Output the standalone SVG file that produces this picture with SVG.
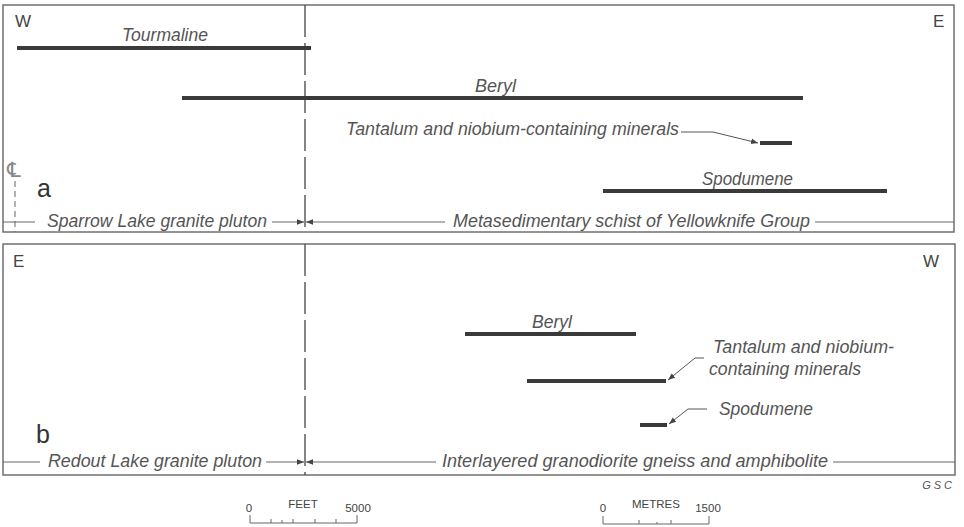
<svg xmlns="http://www.w3.org/2000/svg" width="964" height="527" viewBox="0 0 964 527">
  <defs>
    <style>
      .frame { fill: none; stroke: #666; stroke-width: 1.4; }
      .thin { fill: none; stroke: #666; stroke-width: 1; }
      .dash { fill: none; stroke: #444; stroke-width: 1.3; stroke-dasharray: 32 6; }
      .bar { fill: none; stroke: #3a3a3a; stroke-width: 4; }
      .lead { fill: none; stroke: #555; stroke-width: 1; }
      .lbl { font-family: "Liberation Sans", Arial, sans-serif; font-style: italic; font-size: 17.5px; fill: #555; }
      .dir { font-family: "Liberation Sans", Arial, sans-serif; font-size: 17px; fill: #444; }
      .big { font-family: "Liberation Sans", Arial, sans-serif; font-size: 25px; fill: #333; }
      .sc { font-family: "Liberation Sans", Arial, sans-serif; font-size: 11.5px; fill: #444; }
    </style>
    <marker id="arr" viewBox="0 0 10 10" refX="10" refY="5" markerWidth="7" markerHeight="7" orient="auto-start-reverse" markerUnits="userSpaceOnUse">
      <path d="M0,1 L10,5 L0,9 Z" fill="#444"/>
    </marker>
  </defs>

  <!-- panel a -->
  <g id="panel-a">
    <rect class="frame" x="3" y="5" width="951" height="227"/>
    <line class="dash" x1="305" y1="5" x2="305" y2="232"/>
    <text class="dir" x="15" y="27">W</text>
    <text class="dir" x="933" y="27">E</text>
    <text class="big" x="37" y="197">a</text>
    <text x="7" y="177" style="font-family: 'DejaVu Sans', sans-serif; font-size: 21px; fill: #888;">℄</text>
    <line class="thin" x1="15" y1="181" x2="15" y2="232" stroke-dasharray="6 4"/>
  </g>

  <g id="tourmaline-a">
    <line class="bar" x1="17" y1="48" x2="311" y2="48"/>
    <text class="lbl" x="122" y="41" textLength="86" lengthAdjust="spacingAndGlyphs">Tourmaline</text>
  </g>
  <g id="beryl-a">
    <line class="bar" x1="182" y1="98" x2="803" y2="98"/>
    <text class="lbl" x="475" y="92" textLength="41" lengthAdjust="spacingAndGlyphs">Beryl</text>
  </g>
  <g id="tantalum-a">
    <line class="bar" x1="760" y1="143" x2="792" y2="143"/>
    <text class="lbl" x="346" y="135" textLength="333" lengthAdjust="spacingAndGlyphs">Tantalum and niobium-containing minerals</text>
  </g>
  <g id="spodumene-a">
    <line class="bar" x1="603" y1="191" x2="887" y2="191"/>
    <text class="lbl" x="702" y="185" textLength="91" lengthAdjust="spacingAndGlyphs">Spodumene</text>
  </g>
  <g id="units-a">
    <text class="lbl" x="47" y="227" textLength="220" lengthAdjust="spacingAndGlyphs">Sparrow Lake granite pluton</text>
    <text class="lbl" x="453" y="227" textLength="357" lengthAdjust="spacingAndGlyphs">Metasedimentary schist of Yellowknife Group</text>
  </g>

  <!-- panel b -->
  <g id="panel-b">
    <rect class="frame" x="3" y="244" width="952" height="231"/>
    <line class="dash" x1="305" y1="244" x2="305" y2="475"/>
    <text class="dir" x="13" y="267">E</text>
    <text class="dir" x="923" y="267">W</text>
    <text class="big" x="36" y="443">b</text>
  </g>

  <g id="beryl-b">
    <line class="bar" x1="465" y1="334" x2="636" y2="334"/>
    <text class="lbl" x="532" y="328" textLength="40" lengthAdjust="spacingAndGlyphs">Beryl</text>
  </g>
  <g id="tantalum-b">
    <line class="bar" x1="527" y1="381" x2="666" y2="381"/>
    <text class="lbl" x="713" y="353" textLength="181" lengthAdjust="spacingAndGlyphs">Tantalum and niobium-</text>
    <text class="lbl" x="709" y="375" textLength="152" lengthAdjust="spacingAndGlyphs">containing minerals</text>
  </g>
  <g id="spodumene-b">
    <line class="bar" x1="640" y1="425" x2="667" y2="425"/>
    <text class="lbl" x="719" y="415" textLength="94" lengthAdjust="spacingAndGlyphs">Spodumene</text>
  </g>
  <g id="units-b">
    <text class="lbl" x="48" y="467" textLength="214" lengthAdjust="spacingAndGlyphs">Redout Lake granite pluton</text>
    <text class="lbl" x="442" y="467" textLength="386" lengthAdjust="spacingAndGlyphs">Interlayered granodiorite gneiss and amphibolite</text>
  </g>

  <!-- leaders and unit extent lines -->
  <g id="connectors">
    <polyline class="lead" points="681,132 713,132 758,143" marker-end="url(#arr)"/>
    <polyline class="lead" points="704,358 695,358 668,380" marker-end="url(#arr)"/>
    <polyline class="lead" points="707,409 688,409 669,424" marker-end="url(#arr)"/>

    <line class="thin" x1="3" y1="222" x2="35" y2="222"/>
    <line class="thin" x1="272" y1="222" x2="304" y2="222" marker-end="url(#arr)"/>
    <line class="thin" x1="306" y1="222" x2="445" y2="222" marker-start="url(#arr)"/>
    <line class="thin" x1="815" y1="222" x2="954" y2="222"/>

    <line class="thin" x1="3" y1="462" x2="40" y2="462"/>
    <line class="thin" x1="266" y1="462" x2="304" y2="462" marker-end="url(#arr)"/>
    <line class="thin" x1="306" y1="462" x2="436" y2="462" marker-start="url(#arr)"/>
    <line class="thin" x1="833" y1="462" x2="955" y2="462"/>
  </g>

  <!-- scales and credit -->
  <g id="scale-feet">
    <text class="sc" x="249" y="512" text-anchor="middle">0</text>
    <text class="sc" x="303" y="508" text-anchor="middle">FEET</text>
    <text class="sc" x="358" y="512" text-anchor="middle">5000</text>
    <path class="thin" d="M250,515 V523 H357 V515 M271,519 V523 M282,520 V523 M293,519 V523 M315,519 V523 M336,519 V523"/>
  </g>
  <g id="scale-metres">
    <text class="sc" x="603" y="512" text-anchor="middle">0</text>
    <text class="sc" x="656" y="508" text-anchor="middle">METRES</text>
    <text class="sc" x="708" y="512" text-anchor="middle">1500</text>
    <path class="thin" d="M603,516 V524 H709 V516 M639,520 V524 M657,522 V524 M671,520 V524"/>
  </g>
  <text id="credit" class="lbl" x="955" y="489" text-anchor="end" style="font-size: 11px; letter-spacing: 3px;">GSC</text>
</svg>
